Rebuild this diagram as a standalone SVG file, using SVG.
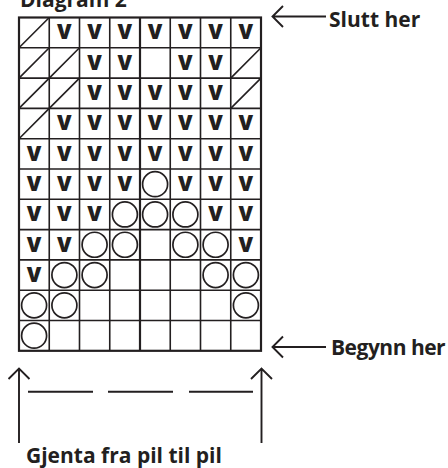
<svg xmlns="http://www.w3.org/2000/svg" width="448" height="468" viewBox="0 0 448 468">
<style>
.lbl{font-family:"Open Sans","Liberation Sans",sans-serif;font-weight:bold;font-size:21px;fill:#231f20}
.v{font-family:"Open Sans","Liberation Sans",sans-serif;font-weight:800;font-size:21px;fill:#231f20;text-anchor:middle}
.g{stroke:#231f20;stroke-width:1.6;fill:none}
.gb{stroke:#231f20;stroke-width:2.2;fill:none}
.c{stroke:#231f20;stroke-width:1.7;fill:none}
.a{stroke:#231f20;stroke-width:1.9;fill:none;stroke-linecap:butt}
</style>
<rect width="448" height="468" fill="#fff"/>
<text id="title" class="lbl" x="20" y="7">Diagram 2</text>
<g id="grid">
<path class="g" d="M49.25,17.5V350.8M79.5,17.5V350.8M109.75,17.5V350.8M170.25,17.5V350.8M200.5,17.5V350.8M230.75,17.5V350.8M19,47.8H261M19,78.1H261M19,108.4H261M19,138.7H261M19,169H261M19,199.3H261M19,229.6H261M19,259.9H261M19,290.2H261M19,320.5H261"/>
<path class="gb" d="M140,17.5V350.8"/>
<rect class="gb" x="19" y="17.5" width="242" height="333.3"/>
</g>
<g id="diagonals">
<path class="g" d="M19,47.8L49.25,17.5M19,78.1L49.25,47.8M49.25,78.1L79.5,47.8M230.75,78.1L261,47.8M19,108.4L49.25,78.1M49.25,108.4L79.5,78.1M230.75,108.4L261,78.1M19,138.7L49.25,108.4"/>
</g>
<g id="circles">
<circle class="c" cx="155.1" cy="184.15" r="12.5"/>
<circle class="c" cx="124.9" cy="214.45" r="12.5"/>
<circle class="c" cx="155.1" cy="214.45" r="12.5"/>
<circle class="c" cx="185.4" cy="214.45" r="12.5"/>
<circle class="c" cx="94.6" cy="244.75" r="12.5"/>
<circle class="c" cx="124.9" cy="244.75" r="12.5"/>
<circle class="c" cx="185.4" cy="244.75" r="12.5"/>
<circle class="c" cx="215.6" cy="244.75" r="12.5"/>
<circle class="c" cx="64.4" cy="275.05" r="12.5"/>
<circle class="c" cx="94.6" cy="275.05" r="12.5"/>
<circle class="c" cx="215.6" cy="275.05" r="12.5"/>
<circle class="c" cx="245.9" cy="275.05" r="12.5"/>
<circle class="c" cx="34.1" cy="305.35" r="12.5"/>
<circle class="c" cx="64.4" cy="305.35" r="12.5"/>
<circle class="c" cx="245.9" cy="305.35" r="12.5"/>
<circle class="c" cx="34.1" cy="335.65" r="12.5"/>
</g>
<g id="vs">
<text class="v" x="64.4" y="39.45">V</text><text class="v" x="94.6" y="39.45">V</text><text class="v" x="124.9" y="39.45">V</text><text class="v" x="155.1" y="39.45">V</text><text class="v" x="185.4" y="39.45">V</text><text class="v" x="215.6" y="39.45">V</text><text class="v" x="245.9" y="39.45">V</text>
<text class="v" x="94.6" y="69.75">V</text><text class="v" x="124.9" y="69.75">V</text><text class="v" x="185.4" y="69.75">V</text><text class="v" x="215.6" y="69.75">V</text>
<text class="v" x="94.6" y="100.05">V</text><text class="v" x="124.9" y="100.05">V</text><text class="v" x="155.1" y="100.05">V</text><text class="v" x="185.4" y="100.05">V</text><text class="v" x="215.6" y="100.05">V</text>
<text class="v" x="64.4" y="130.35">V</text><text class="v" x="94.6" y="130.35">V</text><text class="v" x="124.9" y="130.35">V</text><text class="v" x="155.1" y="130.35">V</text><text class="v" x="185.4" y="130.35">V</text><text class="v" x="215.6" y="130.35">V</text><text class="v" x="245.9" y="130.35">V</text>
<text class="v" x="34.1" y="160.65">V</text><text class="v" x="64.4" y="160.65">V</text><text class="v" x="94.6" y="160.65">V</text><text class="v" x="124.9" y="160.65">V</text><text class="v" x="155.1" y="160.65">V</text><text class="v" x="185.4" y="160.65">V</text><text class="v" x="215.6" y="160.65">V</text><text class="v" x="245.9" y="160.65">V</text>
<text class="v" x="34.1" y="190.95">V</text><text class="v" x="64.4" y="190.95">V</text><text class="v" x="94.6" y="190.95">V</text><text class="v" x="124.9" y="190.95">V</text><text class="v" x="185.4" y="190.95">V</text><text class="v" x="215.6" y="190.95">V</text><text class="v" x="245.9" y="190.95">V</text>
<text class="v" x="34.1" y="221.25">V</text><text class="v" x="64.4" y="221.25">V</text><text class="v" x="94.6" y="221.25">V</text><text class="v" x="215.6" y="221.25">V</text><text class="v" x="245.9" y="221.25">V</text>
<text class="v" x="34.1" y="251.55">V</text><text class="v" x="64.4" y="251.55">V</text><text class="v" x="245.9" y="251.55">V</text>
<text class="v" x="34.1" y="281.85">V</text>
</g>
<g id="connectors">
<path class="a" d="M272.5,16.5H326M283,6L272.5,16.5L283,27"/>
<path class="a" d="M272.5,347H326M283,336.5L272.5,347L283,357.5"/>
<path class="a" d="M19,368.5V443M8.5,379L19,368.5L29.5,379"/>
<path class="a" d="M261.5,368.5V443M251,379L261.5,368.5L272,379"/>
<path class="a" stroke-width="2.4" d="M28,391.7H93M108,391.7H173M189,391.7H253"/>
</g>
<g id="labels">
<text class="lbl" x="329" y="26.5">Slutt her</text>
<text class="lbl" x="331" y="354.5" font-size="20" letter-spacing="-0.5">Begynn her</text>
<text class="lbl" x="26" y="463" font-size="21.7">Gjenta fra pil til pil</text>
</g>
</svg>
